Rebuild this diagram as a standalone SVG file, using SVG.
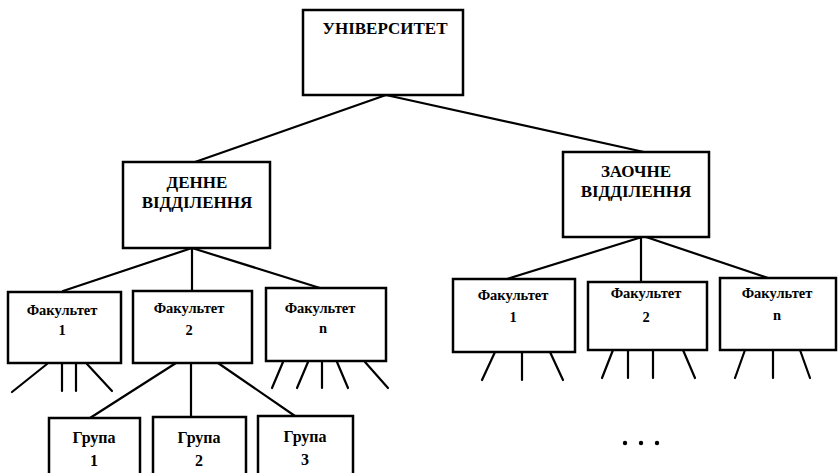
<svg xmlns="http://www.w3.org/2000/svg" width="838" height="473" viewBox="0 0 838 473">
<style>
.box{fill:#fff;stroke:#000;stroke-width:2.5}
.ln{stroke:#000;stroke-width:2.2;fill:none;stroke-linecap:round}
text{font-family:"Liberation Serif","Times New Roman",serif;font-weight:bold;fill:#000;text-anchor:middle}
.t1{font-size:17px}
.t2{font-size:14.5px}
.t3{font-size:16px}
</style>
<rect width="838" height="473" fill="#fff"/>
<g id="connectors" class="ln">
<path d="M386 95 L195 162 M386 95 L644 152"/>
<path d="M192 248 L63 291 M192 248 V291 M192 248 L320 288"/>
<path d="M642 237 L507 279 M641 237 V281 M646 237 L768 278"/>
<path d="M47 364 L12 392 M62 364 V391 M76 364 V391 M87 364 L112 391"/>
<path d="M176 363 L90 418 M191 363 V417 M218 363 L295 416"/>
<path d="M283 362 L272 388 M308 362 L297 388 M322 362 V388 M337 362 L348 388 M365 362 L388 388"/>
<path d="M495 352 L482 380 M522 352 V380 M550 352 L563 380"/>
<path d="M613 350 L602 378 M628 350 V378 M653 350 V378 M683 350 L695 378"/>
<path d="M745 350 L735 378 M773 350 V378 M800 350 L810 378"/>
</g>
<g id="univ"><rect class="box" x="303" y="10" width="160" height="85"/><text class="t1" x="385" y="34">УНІВЕРСИТЕТ</text></g>
<g id="denne"><rect class="box" x="123" y="162" width="147" height="86"/><text class="t1" x="197" y="188">ДЕННЕ</text><text class="t1" x="197" y="208">ВІДДІЛЕННЯ</text></g>
<g id="zaochne"><rect class="box" x="563" y="152" width="146" height="85"/><text class="t1" x="636" y="177">ЗАОЧНЕ</text><text class="t1" x="636" y="197">ВІДДІЛЕННЯ</text></g>
<g id="dfak1"><rect class="box" x="8" y="292" width="113" height="71"/><text class="t2" x="62" y="315">Факультет</text><text class="t2" x="62" y="335">1</text></g>
<g id="dfak2"><rect class="box" x="133" y="291" width="119" height="72"/><text class="t2" x="189" y="313">Факультет</text><text class="t2" x="189" y="335">2</text></g>
<g id="dfakn"><rect class="box" x="266" y="288" width="120" height="73"/><text class="t2" x="320" y="313">Факультет</text><text class="t2" x="323" y="333">n</text></g>
<g id="grupa1"><rect class="box" x="49" y="418" width="91" height="60"/><text class="t3" x="94" y="443">Група</text><text class="t3" x="94" y="466">1</text></g>
<g id="grupa2"><rect class="box" x="153" y="417" width="93" height="60"/><text class="t3" x="199" y="443">Група</text><text class="t3" x="199" y="466">2</text></g>
<g id="grupa3"><rect class="box" x="258" y="416" width="95" height="60"/><text class="t3" x="305" y="442">Група</text><text class="t3" x="305" y="465">3</text></g>
<g id="zfak1"><rect class="box" x="453" y="279" width="122" height="73"/><text class="t2" x="513" y="300">Факультет</text><text class="t2" x="513" y="322">1</text></g>
<g id="zfak2"><rect class="box" x="588" y="282" width="119" height="68"/><text class="t2" x="646" y="298">Факультет</text><text class="t2" x="646" y="322">2</text></g>
<g id="zfakn"><rect class="box" x="720" y="278" width="116" height="72"/><text class="t2" x="777" y="298">Факультет</text><text class="t2" x="777" y="320">n</text></g>
<g id="dots"><circle cx="625" cy="443" r="2.2"/><circle cx="641" cy="443" r="2.2"/><circle cx="657" cy="443" r="2.2"/></g>
</svg>
